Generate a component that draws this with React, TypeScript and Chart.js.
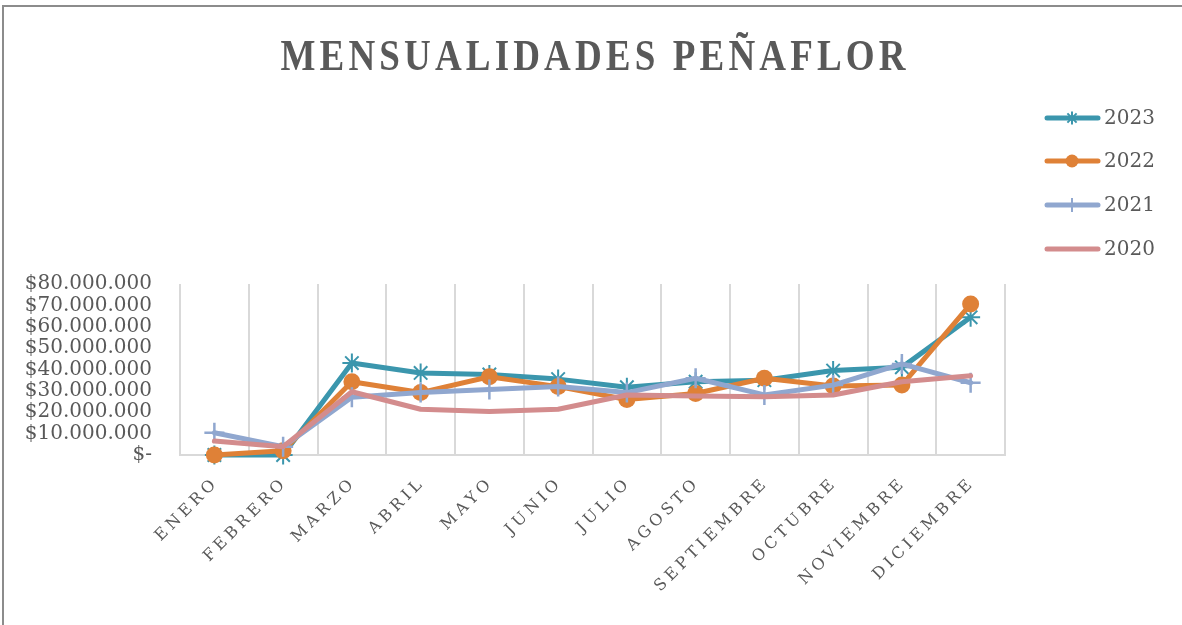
import React, { useEffect, useRef } from 'react';
import { Chart, registerables } from 'chart.js';

Chart.register(...registerables);

const TITLE = 'MENSUALIDADES PEÑAFLOR';
const months = ['ENERO', 'FEBRERO', 'MARZO', 'ABRIL', 'MAYO', 'JUNIO', 'JULIO', 'AGOSTO', 'SEPTIEMBRE', 'OCTUBRE', 'NOVIEMBRE', 'DICIEMBRE'];
const v2023 = [0, 0, 43000000, 38400000, 37700000, 35500000, 31700000, 34300000, 35000000, 39500000, 41000000, 64400000];
const v2022 = [0, 2000000, 34300000, 29200000, 36600000, 32000000, 26000000, 28800000, 35900000, 32300000, 32700000, 70600000];
const v2021 = [10400000, 3900000, 27000000, 29200000, 30700000, 32000000, 29200000, 35900000, 28100000, 32700000, 42600000, 33800000];
const v2020 = [6500000, 3900000, 29600000, 21400000, 20300000, 21400000, 28100000, 27600000, 27300000, 28100000, 34300000, 37100000];
const yMin = 0;
const yMax = 80000000;
const yStep = 10000000;

const TEXT = '#595959';
const TEAL = '#3b96ad';
const ORANGE = '#df8137';
const BLUE = '#90a7cf';
const PINK = '#d38c8d';

const legendItems = [
  { label: '2023', color: TEAL, marker: 'star' },
  { label: '2022', color: ORANGE, marker: 'circle' },
  { label: '2021', color: BLUE, marker: 'cross' },
  { label: '2020', color: PINK, marker: 'none' },
];

const fmt = (v: number) => {
  if (v === 0) return '$-';
  return '$' + String(Math.round(v)).replace(/\B(?=(\d{3})+(?!\d))/g, '.');
};

const decorPlugin = {
  id: 'decor',
  afterDraw(chart: any) {
    const ctx: CanvasRenderingContext2D = chart.ctx;
    const area = chart.chartArea;
    const xs = chart.scales.x;

    // frame
    ctx.save();
    ctx.strokeStyle = '#8c8c8c';
    ctx.lineWidth = 2;
    ctx.beginPath();
    ctx.moveTo(3, chart.height);
    ctx.lineTo(3, 6);
    ctx.lineTo(chart.width, 6);
    ctx.stroke();
    ctx.restore();

    // title
    ctx.save();
    ctx.fillStyle = TEXT;
    ctx.font = 'bold 45px "Liberation Serif"';
    const sp = 5;
    (ctx as any).letterSpacing = '0px';
    const w0 = ctx.measureText(TITLE).width;
    const target = 625;
    const sx = target / (w0 + sp * (TITLE.length - 1));
    (ctx as any).letterSpacing = sp + 'px';
    ctx.textAlign = 'left';
    ctx.textBaseline = 'alphabetic';
    ctx.translate(593 - target / 2, 70);
    ctx.scale(sx, 1);
    ctx.fillText(TITLE, 0, 0);
    ctx.restore();

    // x labels
    ctx.save();
    ctx.fillStyle = TEXT;
    ctx.font = '16px "DejaVu Serif"';
    const ls = 4;
    (ctx as any).letterSpacing = ls + 'px';
    ctx.textAlign = 'left';
    ctx.textBaseline = 'alphabetic';
    months.forEach((m, i) => {
      const x = xs.getPixelForValue(i);
      const w = ctx.measureText(m).width - ls;
      ctx.save();
      ctx.translate(x + 2, area.bottom + 31);
      ctx.rotate(-Math.PI / 4);
      ctx.fillText(m, -w, 0);
      ctx.restore();
    });
    ctx.restore();

    // legend
    ctx.save();
    const ys = [118, 161, 205, 249];
    legendItems.forEach((it, i) => {
      const y = ys[i];
      ctx.strokeStyle = it.color;
      ctx.lineWidth = 5;
      ctx.lineCap = 'round';
      ctx.beginPath();
      ctx.moveTo(1047, y);
      ctx.lineTo(1098, y);
      ctx.stroke();
      const cx = 1072;
      ctx.lineCap = 'butt';
      if (it.marker === 'circle') {
        ctx.fillStyle = it.color;
        ctx.beginPath();
        ctx.arc(cx, y, 6.5, 0, Math.PI * 2);
        ctx.fill();
      } else if (it.marker === 'star') {
        ctx.lineWidth = 2;
        const r = 6.5;
        const d = r * Math.SQRT1_2;
        ctx.beginPath();
        ctx.moveTo(cx, y - r); ctx.lineTo(cx, y + r);
        ctx.moveTo(cx - d, y - d); ctx.lineTo(cx + d, y + d);
        ctx.moveTo(cx - d, y + d); ctx.lineTo(cx + d, y - d);
        ctx.stroke();
      } else if (it.marker === 'cross') {
        ctx.lineWidth = 2;
        ctx.beginPath();
        ctx.moveTo(cx, y - 7); ctx.lineTo(cx, y + 7);
        ctx.stroke();
      }
      ctx.fillStyle = TEXT;
      ctx.font = '20px "DejaVu Serif"';
      ctx.textAlign = 'left';
      ctx.textBaseline = 'middle';
      ctx.fillText(it.label, 1104, y + 1);
    });
    ctx.restore();
  },
};

export default function App() {
  const ref = useRef<HTMLCanvasElement>(null);

  useEffect(() => {
    if (!ref.current) return;
    const common = {
      borderWidth: 5,
      borderJoinStyle: 'round' as const,
      borderCapStyle: 'round' as const,
      tension: 0,
      clip: false as any,
    };
    const chart = new Chart(ref.current, {
      type: 'line',
      data: {
        labels: months,
        datasets: [
          { ...common, label: '2020', data: v2020, borderColor: PINK, backgroundColor: PINK, pointRadius: 0 },
          { ...common, label: '2021', data: v2021, borderColor: BLUE, backgroundColor: BLUE, pointStyle: 'cross', pointRadius: 10, pointBorderWidth: 2.5, pointBorderColor: BLUE },
          { ...common, label: '2022', data: v2022, borderColor: ORANGE, backgroundColor: ORANGE, pointStyle: 'circle', pointRadius: 8.5, pointBorderWidth: 0, pointBackgroundColor: ORANGE },
          { ...common, label: '2023', data: v2023, borderColor: TEAL, backgroundColor: TEAL, pointStyle: 'star', pointRadius: 9.5, pointBorderWidth: 2, pointBorderColor: TEAL },
        ],
      },
      options: {
        animation: false,
        responsive: false,
        layout: { padding: { top: 284, right: 177, bottom: 0, left: 0 } },
        plugins: {
          legend: { display: false },
          title: { display: false },
          tooltip: { enabled: false },
        },
        scales: {
          x: {
            offset: true,
            grid: { offset: true, color: '#d9d9d9', lineWidth: 2, drawTicks: false },
            border: { color: '#d9d9d9', width: 2 },
            ticks: { display: false },
            afterFit: (s: any) => { s.height = 170; },
          },
          y: {
            min: yMin,
            max: yMax,
            grid: { display: false, drawTicks: false },
            border: { display: false },
            ticks: {
              stepSize: yStep,
              autoSkip: false,
              padding: 28,
              color: TEXT,
              font: { family: 'DejaVu Serif', size: 20, lineHeight: 1 },
              callback: (v: any) => fmt(Number(v)),
            },
            afterFit: (s: any) => { s.width = 180; },
          },
        },
      },
      plugins: [decorPlugin],
    });
    return () => chart.destroy();
  }, []);

  return (
    <div style={{ position: 'absolute', left: 0, top: 0, width: 1182, height: 625, background: '#fff' }}>
      <canvas ref={ref} width={1182} height={625} style={{ display: 'block', width: 1182, height: 625 }} />
    </div>
  );
}
